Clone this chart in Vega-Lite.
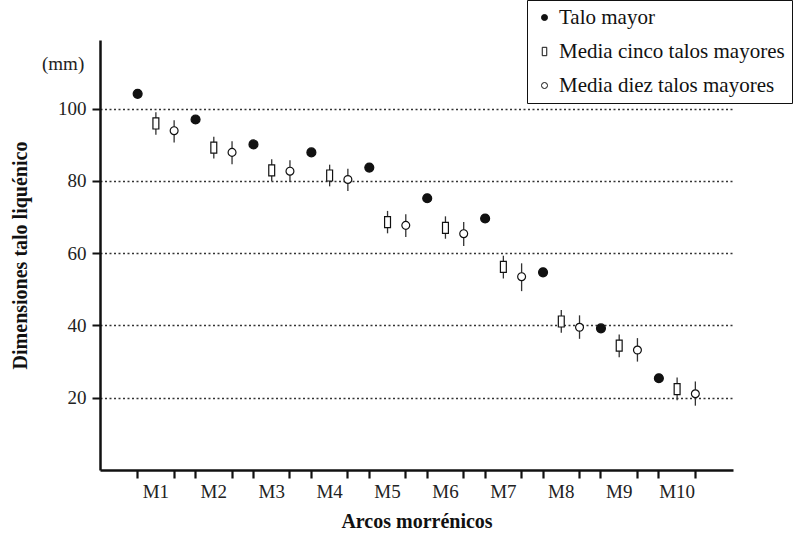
{
  "$schema": "https://vega.github.io/schema/vega-lite/v6.json",
  "width": 633,
  "height": 430,
  "autosize": "none",
  "padding": {"left": 100, "top": 40, "right": 62, "bottom": 67},
  "background": "white",
  "config": {
    "font": "Liberation Serif",
    "view": {"stroke": null},
    "axis": {
      "labelFont": "Liberation Serif",
      "titleFont": "Liberation Serif",
      "labelColor": "#222",
      "titleColor": "#111",
      "domainColor": "#111",
      "tickColor": "#111"
    },
    "legend": {
      "labelFont": "Liberation Serif",
      "titleFont": "Liberation Serif"
    }
  },
  "title": {
    "text": "(mm)",
    "anchor": "start",
    "frame": "group",
    "orient": "top",
    "font": "Liberation Serif",
    "fontSize": 19,
    "fontWeight": "normal",
    "color": "#222",
    "dx": -58,
    "dy": 74,
    "offset": 0
  },
  "data": {
    "values": [
      {"arco": "M1", "serie": "Talo mayor", "valor": 104.1},
      {"arco": "M1", "serie": "Media cinco talos mayores", "valor": 95.9, "min": 92.8, "max": 99.0},
      {"arco": "M1", "serie": "Media diez talos mayores", "valor": 93.9, "min": 90.6, "max": 96.8},
      {"arco": "M2", "serie": "Talo mayor", "valor": 97.0},
      {"arco": "M2", "serie": "Media cinco talos mayores", "valor": 89.2, "min": 86.2, "max": 92.2},
      {"arco": "M2", "serie": "Media diez talos mayores", "valor": 87.9, "min": 84.6, "max": 91.0},
      {"arco": "M3", "serie": "Talo mayor", "valor": 90.1},
      {"arco": "M3", "serie": "Media cinco talos mayores", "valor": 82.9, "min": 79.9, "max": 86.0},
      {"arco": "M3", "serie": "Media diez talos mayores", "valor": 82.7, "min": 79.7, "max": 85.7},
      {"arco": "M4", "serie": "Talo mayor", "valor": 87.9},
      {"arco": "M4", "serie": "Media cinco talos mayores", "valor": 81.5, "min": 78.5, "max": 84.5},
      {"arco": "M4", "serie": "Media diez talos mayores", "valor": 80.4, "min": 77.2, "max": 83.4},
      {"arco": "M5", "serie": "Talo mayor", "valor": 83.7},
      {"arco": "M5", "serie": "Media cinco talos mayores", "valor": 68.6, "min": 65.5, "max": 71.7},
      {"arco": "M5", "serie": "Media diez talos mayores", "valor": 67.7, "min": 64.5, "max": 70.8},
      {"arco": "M6", "serie": "Talo mayor", "valor": 75.2},
      {"arco": "M6", "serie": "Media cinco talos mayores", "valor": 67.0, "min": 64.0, "max": 70.2},
      {"arco": "M6", "serie": "Media diez talos mayores", "valor": 65.4, "min": 62.0, "max": 68.6},
      {"arco": "M7", "serie": "Talo mayor", "valor": 69.6},
      {"arco": "M7", "serie": "Media cinco talos mayores", "valor": 56.2, "min": 53.0, "max": 59.3},
      {"arco": "M7", "serie": "Media diez talos mayores", "valor": 53.5, "min": 49.5, "max": 57.2},
      {"arco": "M8", "serie": "Talo mayor", "valor": 54.7},
      {"arco": "M8", "serie": "Media cinco talos mayores", "valor": 41.1, "min": 38.0, "max": 44.3},
      {"arco": "M8", "serie": "Media diez talos mayores", "valor": 39.5, "min": 36.3, "max": 42.8},
      {"arco": "M9", "serie": "Talo mayor", "valor": 39.2},
      {"arco": "M9", "serie": "Media cinco talos mayores", "valor": 34.4, "min": 31.2, "max": 37.5},
      {"arco": "M9", "serie": "Media diez talos mayores", "valor": 33.2, "min": 30.0, "max": 36.5},
      {"arco": "M10", "serie": "Talo mayor", "valor": 25.4},
      {"arco": "M10", "serie": "Media cinco talos mayores", "valor": 22.4, "min": 19.3, "max": 25.6},
      {"arco": "M10", "serie": "Media diez talos mayores", "valor": 21.1, "min": 17.8, "max": 24.5}
    ]
  },
  "resolve": {"axis": {"x": "independent"}},
  "layer": [
    {
      "transform": [{"filter": "datum.min != null"}],
      "mark": {"type": "rule", "color": "#333", "strokeWidth": 1.3},
      "encoding": {
        "x": {
          "field": "arco",
          "type": "nominal",
          "sort": ["M1","M2","M3","M4","M5","M6","M7","M8","M9","M10"],
          "scale": {"type": "band", "paddingInner": 0.37, "paddingOuter": 0.65},
          "axis": {
            "orient": "bottom",
            "bandPosition": 1,
            "labels": false,
            "domain": false,
            "title": null,
            "ticks": true,
            "tickSize": 8,
            "tickWidth": 2.2
          }
        },
        "xOffset": {
          "field": "serie",
          "type": "nominal",
          "scale": {"type": "point", "padding": 0, "domain": ["Talo mayor", "Media cinco talos mayores", "Media diez talos mayores"]}
        },
        "y": {
          "field": "min",
          "type": "quantitative",
          "scale": {"domain": [0, 119], "nice": false, "zero": true},
          "axis": {
            "values": [20, 40, 60, 80, 100],
            "title": "Dimensiones talo liquénico",
            "titleFontSize": 20,
            "titleFontWeight": "bold",
            "titlePadding": 27,
            "labelFontSize": 19,
            "labelPadding": 6,
            "tickSize": 8,
            "tickWidth": 2,
            "domainWidth": 2.5,
            "grid": true,
            "gridColor": "#333",
            "gridDash": [2, 2.5],
            "gridWidth": 1.3
          }
        },
        "y2": {"field": "max"}
      }
    },
    {
      "transform": [{"filter": "datum.serie == 'Talo mayor'"}],
      "mark": {"type": "point", "filled": true, "strokeWidth": 1.2, "opacity": 1, "size": 80},
      "encoding": {
        "x": {
          "field": "arco",
          "type": "nominal",
          "sort": ["M1","M2","M3","M4","M5","M6","M7","M8","M9","M10"],
          "axis": {
            "orient": "bottom",
            "bandPosition": 0.001,
            "labels": false,
            "domain": false,
            "title": null,
            "ticks": true,
            "tickSize": 8,
            "tickWidth": 2.2
          }
        },
        "xOffset": {"field": "serie", "type": "nominal"},
        "y": {"field": "valor", "type": "quantitative"},
        "shape": {
          "field": "serie",
          "type": "nominal",
          "scale": {
            "domain": ["Talo mayor", "Media cinco talos mayores", "Media diez talos mayores"],
            "range": ["circle", "M-0.75,-1.4L0.75,-1.4L0.75,1.4L-0.75,1.4Z", "circle"]
          },
          "legend": {
            "title": null,
            "orient": "none",
            "legendX": 427,
            "legendY": -40,
            "strokeColor": "#111",
            "fillColor": "white",
            "padding": 7,
            "rowPadding": 12,
            "labelFont": "Liberation Serif",
            "labelFontSize": 21,
            "labelLimit": 400,
            "labelColor": "#111",
            "symbolSize": 36,
            "symbolStrokeWidth": 1,
            "labelOffset": 4
          }
        },
        "fill": {
          "field": "serie",
          "type": "nominal",
          "scale": {
            "domain": ["Talo mayor", "Media cinco talos mayores", "Media diez talos mayores"],
            "range": ["#111", "white", "white"]
          }
        },
        "stroke": {
          "field": "serie",
          "type": "nominal",
          "scale": {
            "domain": ["Talo mayor", "Media cinco talos mayores", "Media diez talos mayores"],
            "range": ["#111", "#111", "#111"]
          }
        }
      }
    },
    {
      "transform": [{"filter": "datum.serie != 'Talo mayor'"}],
      "mark": {"type": "point", "filled": true, "strokeWidth": 1.2, "opacity": 1, "size": 62},
      "encoding": {
        "x": {
          "field": "arco",
          "type": "nominal",
          "sort": ["M1","M2","M3","M4","M5","M6","M7","M8","M9","M10"],
          "axis": {
            "orient": "bottom",
            "labelAngle": 0,
            "labelFontSize": 19,
            "labelPadding": 12,
            "labelOverlap": false,
            "ticks": false,
            "domainWidth": 2.5,
            "title": "Arcos morrénicos",
            "titleFontSize": 20,
            "titleFontWeight": "bold",
            "titlePadding": 10
          }
        },
        "xOffset": {"field": "serie", "type": "nominal"},
        "y": {"field": "valor", "type": "quantitative"},
        "shape": {"field": "serie", "type": "nominal"},
        "fill": {"field": "serie", "type": "nominal"},
        "stroke": {"field": "serie", "type": "nominal"}
      }
    }
  ]
}
